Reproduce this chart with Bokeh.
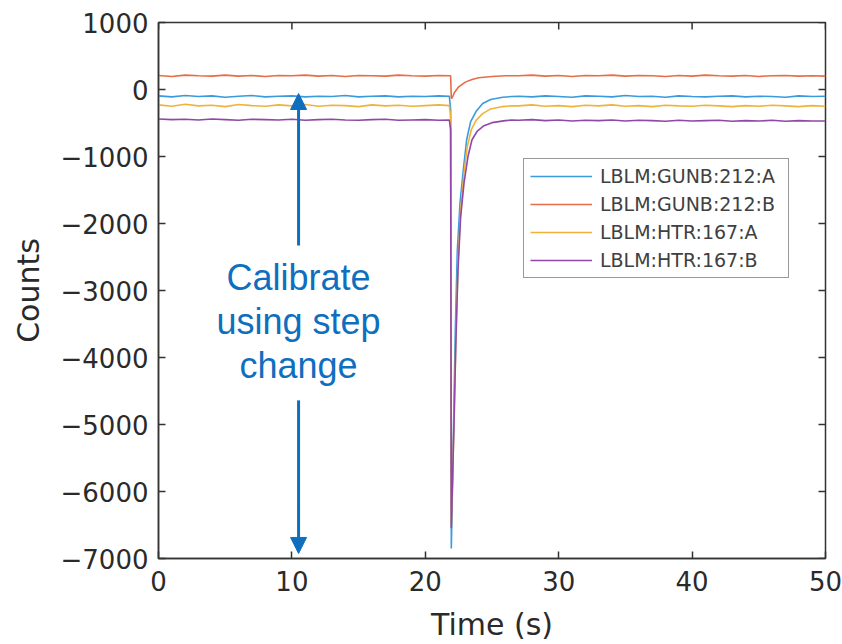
import math
from bokeh.plotting import figure
from bokeh.models import (ColumnDataSource, Legend, LegendItem, FixedTicker,
                          Label, Arrow, NormalHead, Range1d)
from bokeh.embed import file_html
from bokeh.resources import INLINE

# ---------------- data ----------------
series_names = ["LBLM:GUNB:212:A", "LBLM:GUNB:212:B", "LBLM:HTR:167:A", "LBLM:HTR:167:B"]
series_colors = ["#3A9BDC", "#E66D45", "#F0B33A", "#9147A8"]

t_pre = [0, 1, 2, 3, 4, 5, 6, 7, 8, 9, 10, 11, 12, 13, 14, 15, 16, 17, 18, 19, 20, 21, 21.8]
t_post = [27, 28, 29, 30, 31, 32, 33, 34, 35, 36, 37, 38, 39, 40, 41, 42, 43, 44, 45, 46, 47, 48, 49, 50]

blue_pre = [-95, -110, -90, -105, -95, -115, -100, -90, -110, -100, -95, -110, -100, -105, -90, -110,
            -100, -95, -110, -100, -105, -95, -100]
red_pre = [210, 195, 215, 205, 200, 215, 200, 210, 195, 210, 205, 215, 200, 210, 195, 210, 205, 200,
           215, 205, 200, 210, 205]
yellow_pre = [-230, -250, -220, -245, -235, -255, -225, -240, -250, -230, -245, -225, -250, -235, -240,
              -255, -230, -245, -235, -250, -240, -230, -240]
purple_pre = [-440, -450, -445, -455, -440, -450, -460, -445, -450, -455, -445, -460, -450, -445, -455,
              -460, -450, -445, -460, -455, -450, -460, -455]

# step-change transient around t = 22 s
blue_t_spike = [21.9, 21.95, 22.1, 22.25, 22.4, 22.6, 22.85, 23.1, 23.4, 23.8, 24.3, 24.9, 25.8, 26.5]
blue_spike = [-300, -6850, -5200, -3600, -2400, -1700, -1200, -750, -480, -330, -210, -150, -115, -105]
red_t_spike = [21.9, 21.95, 22.0, 22.2, 22.5, 23.0, 23.5, 24.0, 25.0, 26.0]
red_spike = [205, -130, -130, -40, 40, 110, 150, 175, 195, 205]
yellow_t_spike = [21.9, 21.95, 22.15, 22.3, 22.45, 22.65, 22.9, 23.15, 23.45, 23.8, 24.3, 24.9, 25.8, 26.5]
yellow_spike = [-400, -6500, -5000, -3650, -2600, -1800, -1250, -850, -600, -460, -360, -290, -255, -243]
purple_t_spike = [21.9, 21.95, 22.15, 22.3, 22.45, 22.65, 22.9, 23.2, 23.5, 23.9, 24.4, 25.0, 26.0, 26.5]
purple_spike = [-600, -6550, -5000, -3700, -2700, -1900, -1400, -1000, -750, -620, -540, -495, -465, -455]

blue_post = [-100, -110, -95, -105, -115, -95, -100, -110, -90, -105, -100, -115, -95, -105, -110, -100,
             -95, -110, -100, -105, -115, -95, -105, -100]
red_post = [205, 215, 200, 210, 195, 210, 205, 215, 200, 210, 205, 195, 210, 200, 215, 205, 200, 210,
            195, 205, 210, 200, 205, 200]
yellow_post = [-245, -230, -250, -240, -255, -235, -245, -230, -250, -240, -255, -235, -245, -250, -235,
               -245, -255, -240, -250, -235, -245, -255, -240, -250]
purple_post = [-460, -450, -465, -455, -470, -460, -465, -455, -470, -460, -465, -475, -460, -470, -465,
               -460, -475, -465, -470, -460, -475, -465, -470, -470]

x_ticks = [0, 10, 20, 30, 40, 50]
y_ticks = [1000, 0, -1000, -2000, -3000, -4000, -5000, -6000, -7000]
y_tick_labels = ["1000", "0", "\u22121000", "\u22122000", "\u22123000", "\u22124000", "\u22125000",
                 "\u22126000", "\u22127000"]
x_title = "Time (s)"
y_title = "Counts"

annotation_lines = ["Calibrate", "using step", "change"]

# ---------------- figure ----------------
X_MIN, X_MAX, Y_MIN, Y_MAX = 0, 50, -7000, 1000
p = figure(width=842, height=644, output_backend="svg", toolbar_location=None,
           x_range=Range1d(X_MIN, X_MAX), y_range=Range1d(Y_MIN, Y_MAX),
           min_border_left=158, min_border_right=17, min_border_top=22, min_border_bottom=86)
p.background_fill_color = "white"
p.border_fill_color = "white"
p.outline_line_color = "#333333"
p.outline_line_width = 1.5
p.grid.visible = False

axis_color = "#333333"
text_color = "#2a2a2a"
tick_font = "DejaVu Sans"
for ax in (p.xaxis[0], p.yaxis[0]):
    ax.axis_line_color = axis_color
    ax.axis_line_width = 1.5
    ax.major_tick_line_color = axis_color
    ax.major_tick_line_width = 1.5
    ax.major_tick_in = 7
    ax.major_tick_out = 0
    ax.minor_tick_line_color = None
    ax.major_label_text_font = tick_font
    ax.major_label_text_font_size = "26px"
    ax.major_label_text_color = text_color
    ax.axis_label_text_font = tick_font
    ax.axis_label_text_font_size = "30px"
    ax.axis_label_text_font_style = "normal"
    ax.axis_label_text_color = text_color

p.xaxis[0].ticker = FixedTicker(ticks=x_ticks)
p.xaxis[0].axis_label = x_title
p.xaxis[0].major_label_standoff = 12
p.xaxis[0].axis_label_standoff = 13
p.yaxis[0].ticker = FixedTicker(ticks=y_ticks)
p.yaxis[0].major_label_overrides = {t: l for t, l in zip(y_ticks, y_tick_labels)}
p.yaxis[0].axis_label = y_title
p.yaxis[0].major_label_standoff = 10
p.yaxis[0].axis_label_standoff = 12

# inward tick marks on the top and right edges of the box (screen-length rays)
p.ray(x=x_ticks, y=[Y_MAX] * len(x_ticks), length=7, length_units="screen",
      angle=-math.pi / 2, line_color=axis_color, line_width=1.5)
p.ray(x=[X_MAX] * len(y_ticks), y=y_ticks, length=7, length_units="screen",
      angle=math.pi, line_color=axis_color, line_width=1.5)

series = [
    (t_pre + blue_t_spike + t_post, blue_pre + blue_spike + blue_post),
    (t_pre + red_t_spike + t_post, red_pre + red_spike + red_post),
    (t_pre + yellow_t_spike + t_post, yellow_pre + yellow_spike + yellow_post),
    (t_pre + purple_t_spike + t_post, purple_pre + purple_spike + purple_post),
]

items = []
for (tt, yy), name, col in zip(series, series_names, series_colors):
    src = ColumnDataSource(dict(t=tt, y=yy))
    r = p.line("t", "y", source=src, line_color=col, line_width=1.6)
    items.append(LegendItem(label=name, renderers=[r]))

legend = Legend(items=items, location=(365, 280))
legend.label_text_font = tick_font
legend.label_text_font_size = "19px"
legend.label_text_color = "#404040"
legend.glyph_width = 62
legend.glyph_height = 20
legend.label_height = 20
legend.label_width = 182
legend.label_standoff = 8
legend.spacing = 6
legend.padding = 6
legend.margin = 0
legend.border_line_color = "#333333"
legend.border_line_width = 1.2
legend.background_fill_color = "white"
legend.background_fill_alpha = 1.0
p.add_layout(legend, "center")

# ---------------- annotation ----------------
ann_color = "#0F6FBF"
ann_x = 10.5
ann_baselines = [-2805, -3462, -4118]
for txt, yb in zip(annotation_lines, ann_baselines):
    p.add_layout(Label(x=ann_x, y=yb, text=txt, text_align="center", text_baseline="alphabetic",
                       text_font="Liberation Sans", text_font_size="36px", text_color=ann_color))

p.add_layout(Arrow(end=NormalHead(size=16, fill_color=ann_color, line_color=ann_color),
                   x_start=ann_x, y_start=-2330, x_end=ann_x, y_end=-60,
                   line_color=ann_color, line_width=3))
p.add_layout(Arrow(end=NormalHead(size=16, fill_color=ann_color, line_color=ann_color),
                   x_start=ann_x, y_start=-4640, x_end=ann_x, y_end=-6925,
                   line_color=ann_color, line_width=3))

open("out.html", "w").write(file_html(p, INLINE))
